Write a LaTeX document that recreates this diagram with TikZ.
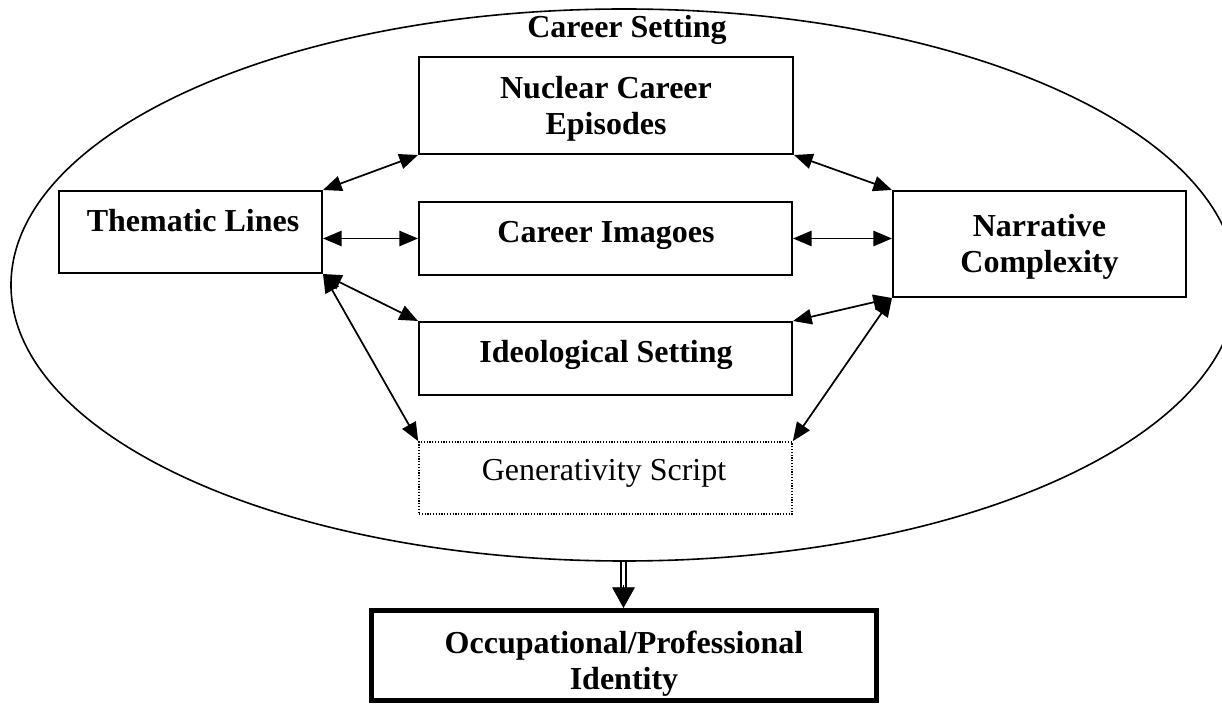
\documentclass[tikz,border=0pt]{standalone}
\usepackage{fontspec}
\setmainfont{Liberation Serif}
\usetikzlibrary{arrows.meta,shapes.geometric,calc}
\begin{document}
\begin{tikzpicture}[x=0.75pt,y=-0.75pt,
  boxstyle/.style={draw, line width=1.5pt, rectangle, inner sep=0pt},
  dotbox/.style={draw, line width=1.2pt, rectangle, inner sep=0pt, dash pattern=on 0.9pt off 1.2pt},
  thickbox/.style={draw, line width=3.75pt, rectangle, inner sep=0pt},
  lbl/.style={inner sep=0pt, font=\fontsize{24pt}{27pt}\selectfont\bfseries, align=center},
  lblreg/.style={inner sep=0pt, font=\fontsize{24pt}{27pt}\selectfont, align=center},
  biarrow/.style={{Triangle[length=14pt,width=11.5pt]}-{Triangle[length=14pt,width=11.5pt]}, line width=1.3pt},
  dblline/.style={double, double distance=1.8pt, line width=1.4pt}
]
\useasboundingbox (0,0) rectangle (1222,705);
\clip (0,0) rectangle (1222,705);

% outer ellipse
\node[ellipse, draw, line width=1.2pt, inner sep=0pt, minimum width=919.5pt, minimum height=414pt] (cs) at (624,285) {};
\node[lbl, anchor=base] (csT) at (627,38) {Career Setting};

% boxes
\node[boxstyle, minimum width=280.5pt, minimum height=72.75pt] (nce) at (606,105.5) {};
\node[boxstyle, minimum width=197.25pt, minimum height=61.5pt] (them) at (190.5,232) {};
\node[boxstyle, minimum width=279.75pt, minimum height=54.75pt] (img) at (605.5,238.5) {};
\node[boxstyle, minimum width=219.75pt, minimum height=79.5pt] (narr) at (1039.5,244) {};
\node[boxstyle, minimum width=279.75pt, minimum height=54.75pt] (ideo) at (605.5,358.5) {};
\node[dotbox, minimum width=279.75pt, minimum height=54pt] (gen) at (605.5,478) {};
\node[thickbox, minimum width=378.75pt, minimum height=67.875pt] (occ) at (623.5,655.75) {};

% texts
\node[lbl, anchor=north] (nceT) at (606,76) {Nuclear Career\\Episodes};
\node[lbl, anchor=base] (themT) at (193,232) {Thematic Lines};
\node[lbl, anchor=base] (imgT) at (606,243) {Career Imagoes};
\node[lbl, anchor=north] (narrT) at (1039.5,214) {Narrative\\Complexity};
\node[lbl, anchor=base] (ideoT) at (606,363) {Ideological Setting};
\node[lblreg, anchor=base] (genT) at (604,481) {Generativity Script};
\node[lbl, anchor=north] (occT) at (624,631) {Occupational/Professional\\Identity};

% connectors
\draw[biarrow] (them.north east) -- (nce.south west);
\draw[biarrow] (nce.south east) -- (narr.north west);
\coordinate (themR) at (them.east |- img.west);
\draw[biarrow] (themR) -- (img.west);
\coordinate (narrL) at (narr.west |- img.east);
\draw[biarrow] (img.east) -- (narrL);
\draw[biarrow] (them.south east) -- (ideo.north west);
\draw[biarrow] (narr.south west) -- (ideo.north east);
\draw[biarrow] (them.south east) -- (gen.north west);
\draw[biarrow] (narr.south west) -- (gen.north east);

% output arrow
\coordinate (arrTop) at (cs.south -| occ.north);
\coordinate (headStart) at ($(occ.north)+(0,-23)$);
\draw[dblline] (arrTop) -- ($(occ.north)+(0,-20)$);
\draw[line width=0.6pt, -{Triangle[length=15.5pt,width=17pt]}] (headStart) -- (occ.north);
\end{tikzpicture}
\end{document}
